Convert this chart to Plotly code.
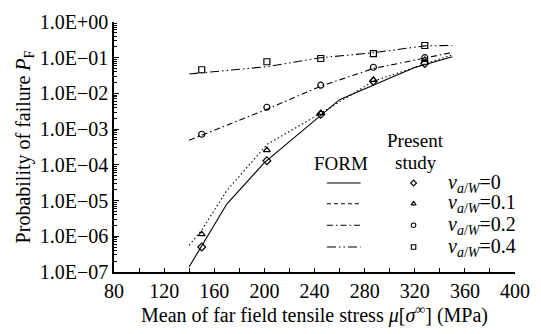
import plotly.graph_objects as go
import numpy as np

# ---- data ----
x_study = [150, 202, 245, 287, 328]
pf_study_v0 = [5.0e-7, 1.3e-4, 2.6e-3, 2.2e-2, 6.9e-2]
pf_study_v01 = [1.15e-6, 2.6e-4, 2.8e-3, 2.4e-2, 8.7e-2]
pf_study_v02 = [7.2e-4, 4.1e-3, 1.7e-2, 5.4e-2, 1.0e-1]
pf_study_v04 = [4.6e-2, 7.7e-2, 9.5e-2, 1.3e-1, 2.2e-1]

x_form_v0 = [140, 170, 200, 230, 260, 290, 320, 350]
pf_form_v0 = [1.4e-7, 8.0e-6, 1.15e-4, 9.0e-4, 6.7e-3, 1.9e-2, 5.3e-2, 1.07e-1]
x_form_v01 = [140, 150, 170, 202, 245, 287, 350]
pf_form_v01 = [5.6e-7, 1.5e-6, 1.9e-5, 3.7e-4, 2.8e-3, 2.2e-2, 1.2e-1]
x_form_v02 = [140, 202, 245, 287, 350]
pf_form_v02 = [4.9e-4, 3.6e-3, 1.6e-2, 5.0e-2, 1.4e-1]
x_form_v04 = [140, 202, 245, 287, 328, 350]
pf_form_v04 = [3.5e-2, 5.6e-2, 1.0e-1, 1.38e-1, 2.15e-1, 2.2e-1]

x_ticks = [80, 120, 160, 200, 240, 280, 320, 360, 400]
y_exps = [-7, -6, -5, -4, -3, -2, -1, 0]
y_ticktext = ["1.0E" + ("+" if e >= 0 else "\u2212") + "%02d" % abs(e) for e in y_exps]

legend_labels = ["0", "0.1", "0.2", "0.4"]
legend_symbols = ["diamond-open", "triangle-up-open", "circle-open", "square-open"]
legend_dashes = ["solid", "4px,3px", "6px,3px,1.5px,3px", "9px,3px,1.5px,3px,1.5px,3px"]

FONT = "'Times New Roman', 'Liberation Serif', 'DejaVu Serif', serif"
BLACK = "black"

fig = go.Figure()

# FORM lines
line_specs = [
    (x_form_v0, pf_form_v0, "solid"),
    (x_form_v01, pf_form_v01, "1.5px,2.5px"),
    (x_form_v02, pf_form_v02, "6px,3px,1.5px,3px"),
    (x_form_v04, pf_form_v04, "9px,3px,1.5px,3px,1.5px,3px"),
]
for xs, ys, dash in line_specs:
    fig.add_trace(go.Scatter(x=xs, y=ys, mode="lines",
                             line=dict(color=BLACK, width=1.1, dash=dash),
                             showlegend=False, hoverinfo="skip"))

# Present study markers
for ys, sym in zip([pf_study_v0, pf_study_v01, pf_study_v02, pf_study_v04], legend_symbols):
    fig.add_trace(go.Scatter(x=x_study, y=ys, mode="markers",
                             marker=dict(symbol=sym, size=6, color=BLACK,
                                         line=dict(color=BLACK, width=1.2)),
                             showlegend=False, hoverinfo="skip"))

# custom legend on overlay axes (0..1 box)
leg_rows = [0.356, 0.273, 0.187, 0.100]
for row, dash, sym, lab in zip(leg_rows, legend_dashes, legend_symbols, legend_labels):
    fig.add_trace(go.Scatter(x=[0.531, 0.615], y=[row, row], mode="lines",
                             line=dict(color=BLACK, width=1.1, dash=dash),
                             xaxis="x2", yaxis="y2", showlegend=False, hoverinfo="skip"))
    fig.add_trace(go.Scatter(x=[0.747], y=[row], mode="markers",
                             marker=dict(symbol=sym, size=4.5, color=BLACK,
                                         line=dict(color=BLACK, width=1.1)),
                             xaxis="x2", yaxis="y2", showlegend=False, hoverinfo="skip"))
    fig.add_annotation(x=0.827, y=row, xref="x2", yref="y2", xanchor="left",
                       yanchor="middle", showarrow=False,
                       text="<i>v</i><sub><i>a</i>/<i>W</i></sub>=" + lab,
                       font=dict(family=FONT, size=20, color=BLACK))

fig.add_annotation(x=0.567, y=0.434, xref="x2", yref="y2", showarrow=False,
                   text="FORM", font=dict(family=FONT, size=19, color=BLACK))
fig.add_annotation(x=0.752, y=0.527, xref="x2", yref="y2", showarrow=False,
                   text="Present", font=dict(family=FONT, size=19, color=BLACK))
fig.add_annotation(x=0.752, y=0.438, xref="x2", yref="y2", showarrow=False,
                   text="study", font=dict(family=FONT, size=19, color=BLACK))

fig.update_layout(
    width=541, height=334,
    margin=dict(l=114, r=11, t=20, b=62),
    paper_bgcolor="white", plot_bgcolor="white",
    font=dict(family=FONT, size=20, color=BLACK),
    xaxis=dict(range=[80, 400], tickvals=x_ticks, ticks="inside", ticklen=4,
               tickwidth=1.2, tickcolor=BLACK, showline=True, linecolor=BLACK,
               linewidth=1.5, showgrid=False, zeroline=False,
               ticklabeloverflow="allow",
               minor=dict(ticks="inside", dtick=20, ticklen=4, tickwidth=1.2,
                          tickcolor=BLACK, showgrid=False),
               tickfont=dict(family=FONT, size=20, color=BLACK),
               title=dict(text="Mean of far field tensile stress <i>\u03bc</i>[<i>\u03c3</i><sup>\u221e</sup>] (MPa)",
                          font=dict(family=FONT, size=20, color=BLACK), standoff=6)),
    yaxis=dict(type="log", range=[-7, 0], tickvals=[10.0 ** e for e in y_exps],
               ticktext=y_ticktext, ticks="inside", ticklen=5, tickwidth=1.2,
               tickcolor=BLACK, showline=True, linecolor=BLACK, linewidth=1.5,
               showgrid=False, zeroline=False,
               minor=dict(ticks="inside", ticklen=3, tickwidth=1, tickcolor=BLACK,
                          tickvals=[m * 10.0 ** e for e in y_exps[:-1] for m in range(2, 10)],
                          showgrid=False),
               tickfont=dict(family=FONT, size=20, color=BLACK),
               title=dict(text="Probability of failure <i>P</i><sub>F</sub>",
                          font=dict(family=FONT, size=20, color=BLACK), standoff=4)),
    xaxis2=dict(range=[0, 1], overlaying="x", visible=False, showgrid=False),
    yaxis2=dict(range=[0, 1], overlaying="y", visible=False, showgrid=False),
    showlegend=False,
)

fig.write_html("out.html")
